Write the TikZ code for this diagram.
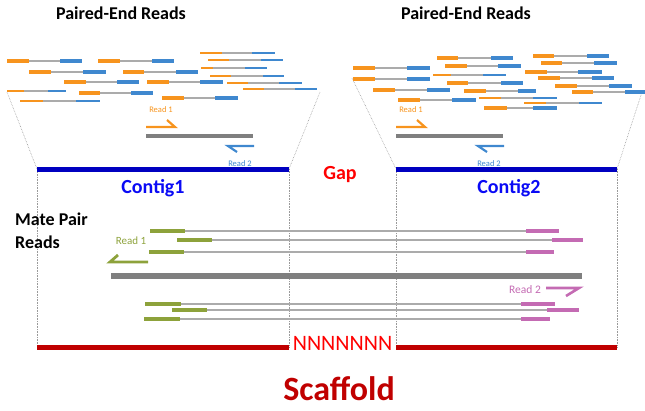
\documentclass[tikz,border=0pt]{standalone}
\usepackage{fontspec}
\setmainfont{Carlito}
\usetikzlibrary{positioning}
\definecolor{ReadOrange}{HTML}{F7941E}
\definecolor{ReadBlue}{HTML}{3F88CF}
\definecolor{MateOlive}{HTML}{8DA23B}
\definecolor{MatePink}{HTML}{C46BB3}
\definecolor{LinkGray}{HTML}{ABABAB}
\definecolor{BarGray}{HTML}{7F7F7F}
\definecolor{GuideGray}{HTML}{9A9A9A}
\definecolor{ContigBlue}{HTML}{0000C0}
\definecolor{ContigText}{HTML}{0A0AF5}
\definecolor{GapRed}{HTML}{FF0000}
\definecolor{ScafRed}{HTML}{C00000}

\begin{document}
\begin{tikzpicture}[x=1pt,y=-1pt,
    lbl/.style={anchor=base,inner sep=0pt},
    link/.style={line width=1.1pt,LinkGray},
    guide/.style={densely dotted,line width=.6pt,GuideGray},
    harpoon/.style={line width=2.2pt,line join=miter},
    refbar/.style={line width=4.5pt,BarGray}]
    \useasboundingbox (0,0) rectangle (645,410);
    % contig and scaffold ends
    \foreach \name/\x in {c1w/37,c1e/289,c2w/396,c2e/617}{
      \coordinate (\name) at (\x,169);
      \coordinate (s\name) at (\x,347);
    }
    \foreach \name/\x/\y in {p1w/7/92,p1e/320/92,p2w/352/78,p2e/642/92}{
      \coordinate (\name) at (\x,\y);
    }
    \draw[guide] (p1w) -- (c1w);
    \draw[guide] (p1e) -- (c1e);
    \draw[guide] (p2w) -- (c2w);
    \draw[guide] (p2e) -- (c2e);
    \foreach \name in {c1w,c1e,c2w,c2e}{
      \draw[guide] (\name) -- (s\name);
    }
    % paired-end reads
    \foreach \a/\b/\c/\d/\y/\w in {7/29/60/82/61/3.8,98/120/152/174/61/3.8,200/222/252/275/53/2.9,
      208/229/261/283/60/2.9,29/51/83/106/72/3.8,123/144/176/198/72/3.8,201/213/245/267/68/2.9,
      210/231/263/284/76/2.9,64/86/117/139/82/3.8,147/169/200/223/82/3.8,227/248/279/302/83/2.9,
      7/24/48/66/91/2.9,79/100/131/153/93/3.8,243/264/295/317/89/2.9,20/43/76/100/101/2.9,
      162/184/215/238/98/3.8,
      353/375/407/430/68/3.8,353/375/407/430/79/3.8,437/458/491/513/58/3.3,445/467/498/521/66/3.3,
      433/451/483/506/75/2.9,447/468/501/523/83/3.3,373/395/427/450/90/3.8,464/486/518/536/91/3.3,
      398/420/452/476/100/3.8,479/501/533/557/98/2.9,524/546/579/602/103/2.9,484/507/533/557/108/3.3,
      533/554/587/609/56/3.3,541/562/594/617/63/3.3,525/547/578/602/72/3.3,538/560/592/614/78/3.3,
      555/577/609/632/86/3.3,572/593/625/645/92/3.3}{
      \draw[link] (\a,\y) -- (\d,\y);
      \draw[ReadOrange,line width=\w pt] (\a,\y) -- (\b,\y);
      \draw[ReadBlue,line width=\w pt] (\c,\y) -- (\d,\y);
    }
    \foreach \x in {0,250}{
      \draw[refbar] (146+\x,136) -- (253+\x,136);
      \draw[harpoon,ReadOrange] (146+\x,127) -- (175+\x,127) -- (167+\x,120);
      \draw[harpoon,ReadBlue] (254+\x,146) -- (228+\x,146) -- (237+\x,152);
    }
    \node[lbl,font=\fontsize{8.5}{10}\selectfont,text=ReadOrange] (r1a) at (161,112) {Read 1};
    \node[lbl,font=\fontsize{8.5}{10}\selectfont,text=ReadOrange] (r1b) at (411,112) {Read 1};
    \node[lbl,font=\fontsize{8.5}{10}\selectfont,text=ReadBlue] (r2a) at (240,166) {Read 2};
    \node[lbl,font=\fontsize{8.5}{10}\selectfont,text=ReadBlue] (r2b) at (489,166) {Read 2};
    \node[lbl,font=\bfseries\fontsize{18}{20}\selectfont] (pe1) at (121,19) {Paired-End Reads};
    \node[lbl,font=\bfseries\fontsize{18}{20}\selectfont] (pe2) at (466,19) {Paired-End Reads};
    % contigs
    \draw[line width=5pt,ContigBlue] (c1w) -- (c1e);
    \draw[line width=5pt,ContigBlue] (c2w) -- (c2e);
    \node[lbl,font=\bfseries\fontsize{20}{22}\selectfont,text=ContigText] (ctg1) at (153,193) {Contig1};
    \node[lbl,font=\bfseries\fontsize{20}{22}\selectfont,text=ContigText] (ctg2) at (509,193) {Contig2};
    \node[lbl,font=\bfseries\fontsize{20}{22}\selectfont,text=GapRed] (gap) at (340,179) {Gap};
    % mate pair reads
    \draw[refbar,line width=6pt] (111,276) -- (582,276);
    \foreach \a/\b/\c/\d/\y in {150/185/526/559/231,177/212/552/583/240,149/184/526/554/252,
      145/181/521/555/304,172/207/547/579/310,144/180/521/550/319}{
      \draw[link,line width=1.5pt] (\a,\y) -- (\d,\y);
      \draw[MateOlive,line width=3.4pt] (\a,\y) -- (\b,\y);
      \draw[MatePink,line width=3.4pt] (\c,\y) -- (\d,\y);
    }
    \draw[harpoon,line width=2.8pt,MateOlive] (148,262) -- (110,262) -- (118,255);
    \draw[harpoon,line width=2.6pt,MatePink] (546,288) -- (579,288) -- (566,296);
    \node[lbl,font=\fontsize{11}{12}\selectfont,text=MateOlive] (mr1) at (131,244) {Read 1};
    \node[lbl,font=\fontsize{11.5}{12}\selectfont,text=MatePink] (mr2) at (525,293) {Read 2};
    \node[anchor=base west,inner sep=0pt,align=left,font=\bfseries\fontsize{18}{23}\selectfont] (mate) at (15,248) {Mate Pair\\Reads};
    % scaffold
    \draw[line width=5pt,ScafRed] (sc1w) -- (sc1e);
    \draw[line width=5pt,ScafRed] (sc2w) -- (sc2e);
    \node[lbl,font=\fontsize{22}{24}\selectfont,text=GapRed] (nn) at (342.5,350) {NNNNNNN};
    \node[lbl,font=\bfseries\fontsize{34}{36}\selectfont,text=ScafRed] (scaf) at (339,400) {Scaffold};
  \end{tikzpicture}
\end{document}
